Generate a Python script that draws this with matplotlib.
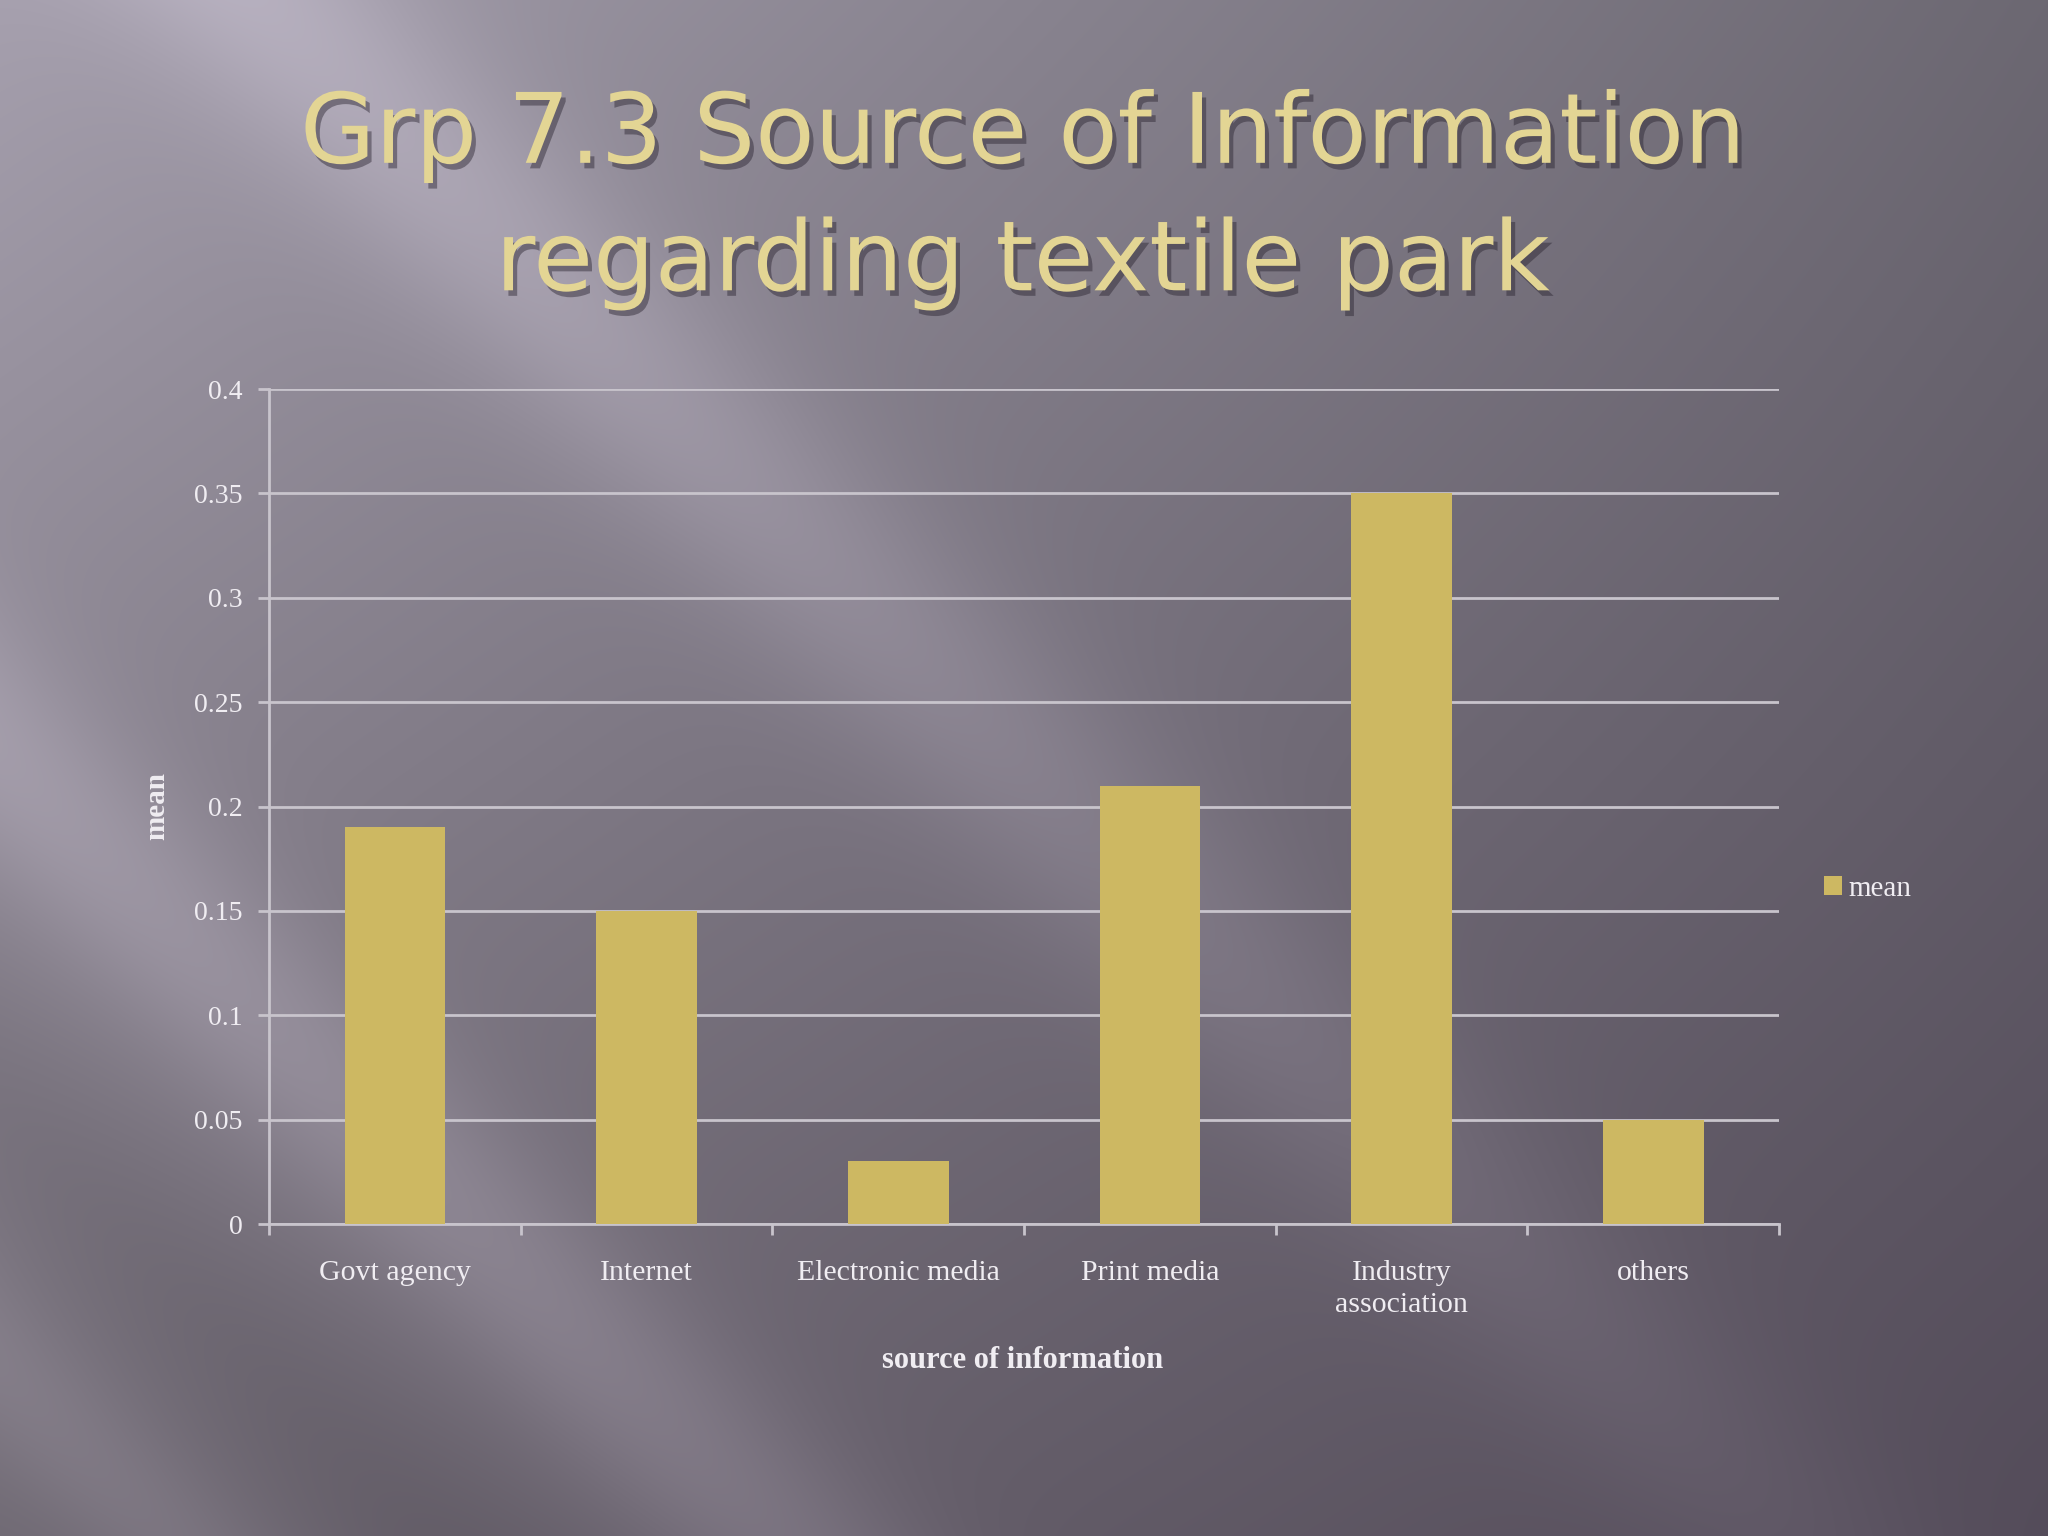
import numpy as np
import matplotlib.pyplot as plt
from matplotlib.patches import Patch
import matplotlib.patheffects as pe

# data
categories = ['Govt agency', 'Internet', 'Electronic media', 'Print media',
              'Industry\nassociation', 'others']
means = [0.19, 0.15, 0.03, 0.21, 0.35, 0.05]
yticks = [0, 0.05, 0.1, 0.15, 0.2, 0.25, 0.3, 0.35, 0.4]
ytick_labels = ['0', '0.05', '0.1', '0.15', '0.2', '0.25', '0.3', '0.35', '0.4']

bar_color = '#cdb862'
grid_color = '#c8c4cc'
text_color = '#f0edf2'

W, H = 2048, 1536
fig = plt.figure(figsize=(20.48, 15.36), dpi=100)

# slide background: dark gradient with soft diagonal light streaks
yy, xx = np.mgrid[0:H, 0:W].astype(float)
u = xx / W
v = yy / H
tl = np.array([165, 159, 173])
tr = np.array([108, 104, 114])
bl = np.array([112, 106, 116])
br = np.array([84, 76, 90])
bg = (tl * ((1 - u) * (1 - v))[..., None] + tr * (u * (1 - v))[..., None]
      + bl * ((1 - u) * v)[..., None] + br * (u * v)[..., None])
d = (xx - yy) / 1.306
fade = np.clip(1.3 - u * 1.1, 0, 1)
streak = (24 * np.exp(-((d - 200) / 120) ** 2)
          + 24 * np.exp(-((d + 580) / 110) ** 2)
          + 14 * np.exp(-((d + 1050) / 80) ** 2)
          - 6 * np.exp(-((d + 850) / 90) ** 2))
bg = bg + (streak * fade)[..., None] * np.array([1.0, 0.97, 1.03])
bg = np.clip(bg, 0, 255).astype(np.uint8)
bax = fig.add_axes([0, 0, 1, 1], zorder=-10)
bax.imshow(bg, aspect='auto', extent=[0, 1, 0, 1])
bax.axis('off')

# title
title_fx = [pe.withSimplePatchShadow(offset=(3, -4), shadow_rgbFace='#2a2430', alpha=0.45)]
fig.text(0.4995, 0.894, 'Grp 7.3 Source of Information', ha='center', va='baseline',
         fontsize=70, family='DejaVu Sans', color='#e3d594', path_effects=title_fx)
fig.text(0.4995, 0.811, 'regarding textile park', ha='center', va='baseline',
         fontsize=70, family='DejaVu Sans', color='#e3d594', path_effects=title_fx)

# chart
ax = fig.add_axes([0.1314, 0.2031, 0.7373, 0.5436])
ax.set_facecolor('none')
x = np.arange(len(categories))
ax.bar(x, means, width=0.4, color=bar_color, zorder=3, label='mean')
ax.set_xlim(-0.5, len(categories) - 0.5)
ax.set_ylim(0, 0.4)
ax.set_yticks(yticks)
ax.set_yticklabels(ytick_labels)
ax.yaxis.grid(True, color=grid_color, linewidth=2, zorder=1)
ax.set_axisbelow(True)

ax.set_xticks(np.arange(len(categories) + 1) - 0.5, minor=False)
ax.set_xticklabels([''] * (len(categories) + 1))
ax.set_xticks(x, minor=True)
ax.set_xticklabels(categories, minor=True, family='Liberation Serif', fontsize=21.5,
                   color=text_color, linespacing=1.3)
ax.tick_params(axis='x', which='minor', length=0, pad=26)
ax.tick_params(axis='x', which='major', length=8, width=2, color=grid_color)
ax.tick_params(axis='y', length=8, width=2, color=grid_color, pad=11,
               labelcolor=text_color, labelsize=20)
for lab in ax.get_yticklabels():
    lab.set_family('Liberation Serif')

for side in ['top', 'right']:
    ax.spines[side].set_visible(False)
for side in ['left', 'bottom']:
    ax.spines[side].set_color(grid_color)
    ax.spines[side].set_linewidth(2)

fig.text(0.4995, 1 - 1361 / H, 'source of information', ha='center', va='center',
         family='Liberation Serif', fontsize=22, fontweight='bold', color=text_color)
fig.text(157 / W, 1 - 806 / H, 'mean', ha='center', va='center', rotation=90,
         family='Liberation Serif', fontsize=21, fontweight='bold', color=text_color)

leg = fig.legend(handles=[Patch(facecolor=bar_color, label='mean')],
                 loc='center left', bbox_to_anchor=(1824 / W, 1 - 889 / H),
                 frameon=False, borderpad=0, borderaxespad=0,
                 handlelength=0.6, handleheight=0.6, handletextpad=0.25,
                 prop={'family': 'Liberation Serif', 'size': 21})
for t in leg.get_texts():
    t.set_color(text_color)

fig.savefig('out.png', dpi=100)
